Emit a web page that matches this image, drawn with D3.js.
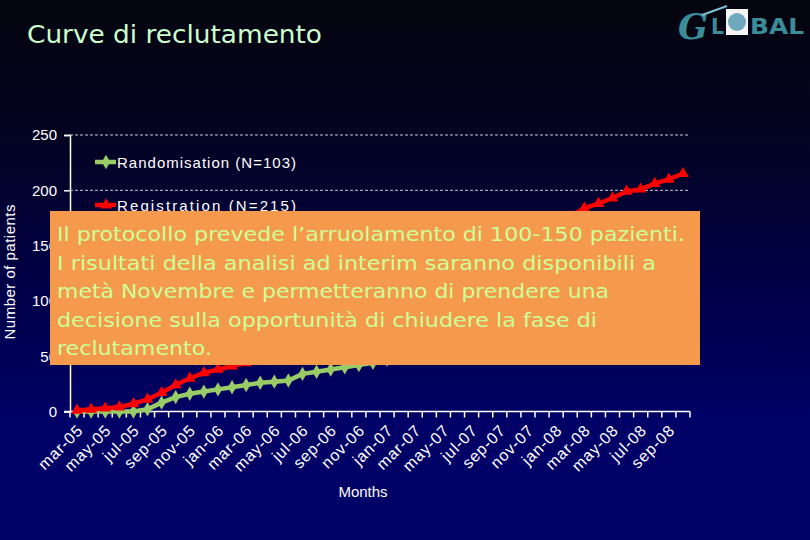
<!DOCTYPE html>
<html><head><meta charset="utf-8">
<script src="https://cdn.jsdelivr.net/npm/d3@7"></script>
<style>html,body{margin:0;padding:0;background:#000;}svg{display:block;}</style>
</head><body>
<script>
const months = ["mar-05","apr-05","may-05","jun-05","jul-05","aug-05","sep-05","oct-05","nov-05","dec-05",
"jan-06","feb-06","mar-06","apr-06","may-06","jun-06","jul-06","aug-06","sep-06","oct-06","nov-06","dec-06",
"jan-07","feb-07","mar-07","apr-07","may-07","jun-07","jul-07","aug-07","sep-07","oct-07","nov-07","dec-07",
"jan-08","feb-08","mar-08","apr-08","may-08","jun-08","jul-08","aug-08","sep-08","oct-08"];
const randomisation = [0,0,0,0,0,2,8,13,16,18,20,22,24,26,27,28,34,36,38,40,42,44,47,50,52,55,58,60,63,66,68,71,74,76,79,82,84,87,90,92,95,98,100,103];
const registration = [1,2,3,4,7,11,17,24,30,35,38,41,44,49,55,60,66,72,78,84,90,96,101,107,113,119,125,131,137,143,149,155,160,165,170,176,184,188,193,199,201,206,210,215];
const yTicks = [0,50,100,150,200,250];
const seriesNames = ["Randomisation (N=103)","Registration (N=215)"];
const noteLines = ["Il protocollo prevede l’arruolamento di 100-150 pazienti.",
"I risultati della analisi ad interim saranno disponibili a",
"metà Novembre e permetteranno di prendere una",
"decisione sulla opportunità di chiudere la fase di",
"reclutamento."];
const noteWidths = [628,599,552,540,155];

const W=810,H=540;
const svg=d3.select("body").append("svg").attr("width",W).attr("height",H);
const defs=svg.append("defs");
const bg=defs.append("linearGradient").attr("id","bg").attr("x1",0).attr("y1",0).attr("x2",0).attr("y2",1);
bg.append("stop").attr("offset","0%").attr("stop-color","#05050f");
bg.append("stop").attr("offset","25%").attr("stop-color","#030322");
bg.append("stop").attr("offset","55%").attr("stop-color","#00004a");
bg.append("stop").attr("offset","78%").attr("stop-color","#000066");
bg.append("stop").attr("offset","100%").attr("stop-color","#000066");
svg.append("rect").attr("width",W).attr("height",H).attr("fill","url(#bg)");

// title
svg.append("text").attr("x",27).attr("y",43).text("Curve di reclutamento")
 .attr("fill","#ccffcc").attr("font-family","DejaVu Sans").attr("font-size",24)
 .attr("textLength",295).attr("lengthAdjust","spacingAndGlyphs");

// logo
const logo=svg.append("g");
logo.append("text").attr("x",678).attr("y",39).text("G").attr("fill","#3a8c98")
 .attr("font-family","DejaVu Serif").attr("font-style","italic").attr("font-weight","bold").attr("font-size",36)
 .attr("textLength",30).attr("lengthAdjust","spacingAndGlyphs");
logo.append("text").attr("x",711).attr("y",34).text("L").attr("fill","#3a8c98")
 .attr("font-family","DejaVu Sans").attr("font-weight","bold").attr("font-size",22)
 .attr("textLength",13).attr("lengthAdjust","spacingAndGlyphs");
logo.append("rect").attr("x",726).attr("y",9).attr("width",22).attr("height",26).attr("fill","#f4f4f4");
logo.append("circle").attr("cx",737).attr("cy",22).attr("r",9).attr("fill","#6fa9bd");
logo.append("path").attr("d","M702,15 L727,6").attr("stroke","#7fc0cf").attr("stroke-width",2);
logo.append("text").attr("x",750).attr("y",34).text("BAL").attr("fill","#3a8c98")
 .attr("font-family","DejaVu Sans").attr("font-weight","bold").attr("font-size",22).attr("textLength",54).attr("lengthAdjust","spacingAndGlyphs");

const x0=70,x1=690,yb=411.5,yt=135;
const x=d3.scaleBand().domain(months).range([x0,x1]);
const y=d3.scaleLinear().domain([0,250]).range([yb,yt]);
const cx=d=>x(d)+x.bandwidth()/2;
const sans="Liberation Sans, Arial";

// gridlines
svg.append("g").selectAll("line").data(yTicks.filter(v=>v>0)).join("line")
 .attr("x1",x0).attr("x2",x1).attr("y1",d=>y(d)).attr("y2",d=>y(d))
 .attr("stroke","#c8c8d8").attr("stroke-width",1).attr("stroke-dasharray","3,2");

// y axis
const yAxis=svg.append("g").attr("transform",`translate(${x0},0)`)
 .call(d3.axisLeft(y).tickValues(yTicks).tickSize(6).tickPadding(7));
yAxis.select(".domain").attr("stroke","#fff").attr("stroke-width",1.5);
yAxis.selectAll(".tick line").attr("stroke","#fff").attr("stroke-width",1.5);
yAxis.selectAll(".tick text").attr("fill","#fff").attr("font-family",sans).attr("font-size",15);

// x axis: ticks between categories
const xa=svg.append("g");
xa.append("line").attr("x1",x0-6).attr("x2",x1).attr("y1",yb).attr("y2",yb).attr("stroke","#fff").attr("stroke-width",1.5);
const edges=months.map(m=>x(m)).concat([x1]);
xa.selectAll("line.t").data(edges).join("line").attr("class","t")
 .attr("x1",d=>d).attr("x2",d=>d).attr("y1",yb).attr("y2",yb+6).attr("stroke","#fff").attr("stroke-width",1.5);
xa.selectAll("text").data(months.filter((m,i)=>i%2===0)).join("text")
 .attr("transform",d=>`translate(${cx(d)+3},${yb+16}) rotate(-45)`)
 .attr("text-anchor","end").attr("dy","0.35em").text(d=>d)
 .attr("fill","#fff").attr("font-family",sans).attr("font-size",16).attr("letter-spacing",0.8);

svg.append("text").attr("x",363).attr("y",497).attr("text-anchor","middle").text("Months")
 .attr("fill","#fff").attr("font-family",sans).attr("font-size",15);
svg.append("text").attr("transform","translate(15,272) rotate(-90)").attr("text-anchor","middle")
 .text("Number of patients").attr("fill","#fff").attr("font-family",sans).attr("font-size",15)
 .attr("textLength",135).attr("lengthAdjust","spacing");

// series
const series=[{name:seriesNames[0],values:randomisation,color:"#99cc66",shape:d3.symbolDiamond},
              {name:seriesNames[1],values:registration,color:"#ff0000",shape:d3.symbolTriangle}];
const line=d3.line().x((d,i)=>cx(months[i])).y(d=>y(d));
series.forEach(s=>{
  const g=svg.append("g");
  g.append("path").datum(s.values).attr("d",line).attr("fill","none").attr("stroke",s.color).attr("stroke-width",4.5);
  g.selectAll("path.m").data(s.values).join("path").attr("class","m")
   .attr("transform",(d,i)=>`translate(${cx(months[i])},${y(d)})`)
   .attr("d",d3.symbol().type(s.shape).size(60)).attr("fill",s.color);
});

// legend
series.forEach((s,i)=>{
  const ly=162+i*43;
  svg.append("line").attr("x1",95).attr("x2",116).attr("y1",ly).attr("y2",ly).attr("stroke",s.color).attr("stroke-width",4.5);
  svg.append("path").attr("transform",`translate(106,${ly})`).attr("d",d3.symbol().type(s.shape).size(60)).attr("fill",s.color);
  svg.append("text").attr("x",117).attr("y",ly+6).text(s.name).attr("fill","#fff")
   .attr("font-family",sans).attr("font-size",15).attr("textLength",179).attr("lengthAdjust","spacing");
});

// note box
svg.append("rect").attr("x",50).attr("y",211).attr("width",650).attr("height",154).attr("fill","#f59a4c");
svg.append("g").selectAll("text").data(noteLines).join("text")
 .attr("x",57).attr("y",(d,i)=>241+i*28.5).text(d=>d)
 .attr("fill","#ccff99").attr("font-family","DejaVu Sans").attr("font-size",20)
 .attr("textLength",(d,i)=>noteWidths[i]).attr("lengthAdjust","spacingAndGlyphs");
</script>
</body></html>
